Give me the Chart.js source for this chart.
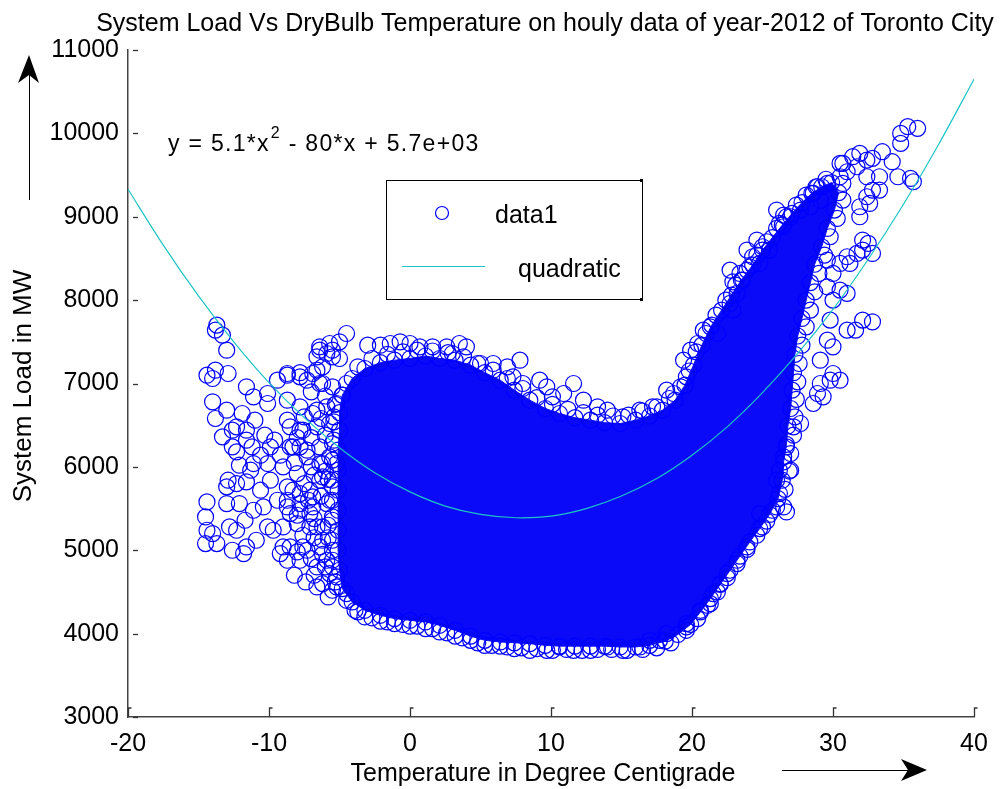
<!DOCTYPE html>
<html>
<head>
<meta charset="utf-8">
<title>System Load Vs DryBulb Temperature</title>
<script src="https://cdn.jsdelivr.net/npm/chart.js@4.4.0/dist/chart.umd.min.js"></script>
<style>
  html, body { margin: 0; padding: 0; background: #fff; }
  #wrap { width: 1005px; height: 789px; }
</style>
</head>
<body>
<div id="wrap"><canvas id="canvas" width="1005" height="789"></canvas></div>
<script>
// axis ticks
const xTicks = [-20, -10, 0, 10, 20, 30, 40];
const yTicks = [3000, 4000, 5000, 6000, 7000, 8000, 9000, 10000, 11000];

// outline of the solid blue mass (thousands of overlapping hourly points), [temp, load]
const coreOutline = [
  [-4.8,6860],[-4.1,7060],[-3.2,7180],[-2.1,7250],[-1.1,7280],[0,7300],[1.1,7330],[2.1,7300],
  [3.2,7280],[4.3,7220],[5.3,7130],[6.4,7040],[7.4,6920],[8.5,6800],[9.6,6700],[10.6,6640],
  [11.7,6590],[12.8,6560],[13.8,6530],[14.9,6520],[16.0,6560],[17.0,6610],[17.9,6680],[18.8,6800],
  [19.5,6980],[20.1,7220],[20.7,7460],[21.4,7700],[22.1,7880],[22.8,8060],[23.5,8240],[24.3,8420],
  [25.0,8600],[25.7,8750],[26.4,8900],[27.1,9040],[27.8,9170],[28.5,9280],[29.2,9360],[29.9,9410],
  [30.4,9290],[30.1,9080],[29.6,8860],[29.2,8640],[28.7,8430],[28.4,8210],[28.1,8000],[27.8,7780],
  [27.5,7570],[27.3,7350],[27.2,7130],[27.1,6920],[27.0,6700],[26.8,6490],[26.7,6270],[26.5,6060],
  [26.4,5840],[26.1,5620],[25.5,5430],[24.8,5260],[24.1,5100],[23.4,4930],[22.7,4760],[22.0,4590],
  [21.3,4420],[20.6,4260],[19.9,4110],[19.0,3990],[18.1,3910],[17.0,3860],[16.0,3840],[14.9,3840],
  [13.8,3850],[12.8,3850],[11.7,3850],[10.6,3850],[9.6,3860],[8.5,3880],[7.4,3890],[6.4,3900],
  [5.3,3920],[4.3,3970],[3.2,4040],[2.1,4100],[1.1,4140],[0,4160],[-1.1,4180],[-2.1,4220],
  [-3.2,4280],[-4.1,4380],[-4.8,4540],[-5.0,4760],[-5.1,5000],[-5.1,5240],[-5.1,5480],[-5.1,5720],
  [-5.1,5960],[-5.1,6200],[-5.0,6440],[-5.0,6650],[-4.8,6860]
];

// ragged edge of the mass, circles sitting just outside the outline
const edgePoints = [
  [-4.5,7000],[-3.7,7200],[-2.7,7300],[-1.6,7350],[-0.5,7380],[0.5,7400],[1.6,7390],[2.7,7370],
  [3.8,7320],[4.8,7240],[5.9,7160],[6.9,7060],[8.0,6940],[9.0,6830],[10.1,6750],[11.2,6690],
  [12.3,6650],[13.3,6620],[14.4,6610],[15.5,6620],[16.5,6670],[17.5,6720],[18.4,6820],[19.2,6960],
  [19.8,7150],[20.3,7380],[21.0,7600],[21.7,7820],[22.4,8000],[23.1,8180],[23.9,8360],[24.6,8540],
  [25.3,8700],[26.0,8860],[26.7,9000],[27.4,9140],[28.1,9260],[28.8,9360],[29.5,9450],
  [30.7,9200],[30.3,8980],[29.8,8760],[29.4,8540],[29.0,8320],[28.7,8100],[28.4,7880],[28.1,7680],
  [27.8,7460],[27.6,7240],[27.5,7020],[27.4,6810],[27.3,6600],[27.2,6380],[27.0,6160],[26.9,5950],
  [26.6,5730],[26.0,5520],[25.3,5350],[24.6,5180],[23.9,5010],[23.2,4840],[22.5,4670],[21.8,4500],
  [21.1,4340],[20.4,4180],[19.6,4040],
  [18.5,3890],[17.5,3830],[16.5,3810],[15.4,3800],[14.3,3810],[13.3,3810],[12.2,3800],[11.1,3810],
  [10.1,3800],[9.0,3820],[7.9,3830],[6.9,3840],[5.8,3860],[4.8,3890],[3.7,3950],[2.6,4010],
  [1.6,4060],[0.5,4090],[-0.5,4110],[-1.6,4140],[-2.7,4190],[-3.7,4260],[-4.5,4400],
  [-5.3,4620],[-5.5,4880],[-5.5,5120],[-5.5,5360],[-5.5,5600],[-5.5,5840],[-5.5,6080],[-5.4,6320],
  [-5.4,6540],[-5.3,6750]
];

// scattered points on the cold side
const coldPoints = [
  [-13.7,7700],[-13.8,7640],[-13.3,7580],[-13.0,7400],[-14.4,7100],[-14.0,7060],[-13.8,7160],[-12.9,7120],
  [-14.0,6780],[-13.8,6580],[-13.0,6680],[-13.3,6360],[-12.6,6440],[-12.3,6480],[-12.6,6240],[-12.3,6180],
  [-11.6,6320],[-11.2,6240],[-11.1,6040],[-11.6,6440],[-11.6,6960],[-11.1,6840],[-11.9,6640],[-10.1,6880],
  [-10.1,6760],[-9.4,7040],[-8.7,7100],[-7.8,7130],[-7.3,7040],[-6.6,7160],[-6.4,7400],[-5.5,7400],
  [-4.5,7600],[-5.7,7480],[-5.0,7300],[-6.4,7000],[-6.6,6680],[-8.7,6560],[-7.8,6440],[-7.8,6240],
  [-7.3,6120],[-8.5,6240],[-9.9,6240],[-10.1,6040],[-9.0,6000],[-12.9,5840],[-13.0,5760],[-12.3,5800],
  [-11.6,5820],[-14.4,5580],[-14.5,5400],[-14.4,5240],[-14.5,5080],[-13.7,5080],[-14.0,5200],[-13.0,5560],
  [-12.1,5560],[-12.8,5280],[-12.3,5240],[-11.1,5480],[-10.4,5520],[-12.6,5000],[-11.8,4960],[-11.6,5040],
  [-10.9,5120],[-10.1,5280],[-9.7,5240],[-9.2,4960],[-9.0,5040],[-8.7,5600],[-8.5,5440],[-8.3,5720],
  [-7.8,5560],[-7.6,5040],[-7.1,5440],[-6.9,5640],[-6.6,5280],[-6.2,5880],[-6.4,6040],[-5.7,6120],
  [-5.5,5760],[-5.7,5600],[-5.5,5400],[-6.2,5120],[-5.9,4880],[-5.5,4800],[-6.2,4600],[-5.5,4520],
  [-8.0,5920],[-8.7,5760],[-7.8,5680],[-7.1,5720],[-6.4,5840],[-8.7,5520],[-7.8,5480],[-6.9,5520],
  [-5.9,5560],[-9.0,5280],[-8.0,5320],[-7.1,5280],[-6.2,5280],[-8.5,5040],[-7.3,5000],[-6.4,5040],
  [-5.5,5000],[-8.7,4880],[-7.8,4880],[-6.6,4800],[-5.7,4720],[-5.2,4560],[-4.5,4480],
  [-8.7,7120],[-7.8,7080],[-6.9,7120],[-6.2,7000],[-5.5,6960],[-8.7,6800],[-7.8,6720],[-6.9,6640],
  [-5.9,6720],[-5.2,6760],[-8.5,6480],[-7.6,6440],[-6.6,6480],[-5.7,6520],[-8.3,6240],[-7.3,6200],
  [-6.4,6240],[-5.5,6280],[-6.2,6040],[-5.2,6040],
  [-11.0,6560],[-10.3,6380],[-9.6,6320],[-10.6,6140],[-9.2,6140],[-11.3,5960],[-9.9,5840],[-10.6,5720],
  [-9.4,5600],[-11.7,5360],[-12.1,6020],
  [-7.0,6900],[-6.0,6850],[-7.5,6600],[-6.3,6580],[-5.4,6600],[-7.0,6350],[-6.0,6380],[-8.0,6350],
  [-7.0,6000],[-6.0,5950],[-8.2,6050],[-7.5,5800],[-6.8,5900],[-5.8,5850],[-7.2,5600],[-6.3,5650],
  [-8.0,5420],[-6.8,5380],[-5.8,5300],[-7.6,5180],[-6.8,5150],[-5.8,5150],[-7.0,4900],[-6.2,4950],
  [-8.0,4980],[-6.8,4700],[-6.0,4800],[-5.2,4680],[-8.2,4700],[-7.4,4620],[-6.6,4560],[-5.8,4440]
];

// points on the rim of the main body (top and bottom)
const rimPoints = [
  [-5.0,7500],[-6.4,7440],[-5.9,7360],[-5.5,7320],[-6.6,7320],[-6.2,7200],[-3.0,7460],[-2.1,7460],
  [-1.4,7480],[-0.7,7500],[0,7480],[0.7,7440],[1.6,7440],[2.6,7440],[3.5,7480],[4.0,7440],
  [3.0,7360],[5.0,7240],[5.9,7240],[6.9,7200],[7.8,7280],[7.3,7080],[8.0,7000],[9.2,7040],
  [9.7,6960],[10.1,6840],[10.9,6880],[11.6,7000],[12.3,6800],[13.3,6720],[14.0,6680],[15.1,6600],
  [16.3,6680],[17.2,6720],[18.2,6920],[18.7,6880],[19.6,7080],[19.4,7280],[19.9,7400],[20.4,7480],
  [17.7,3920],[17.0,3920],[16.3,3840],[15.1,3800],[14.0,3840],[12.8,3800],[11.6,3800],[10.6,3840],
  [9.7,3800],[8.5,3800],[7.4,3820],[6.4,3850],[5.3,3860],[4.3,3920],[3.2,3970],[2.1,4020],
  [1.1,4060],[0,4090],[-1.1,4120],[-2.1,4150],[-3.2,4200],[-3.9,4280]
];

// summer arm and the warm-side rim
const hotPoints = [
  [21.3,7680],[21.8,7600],[20.8,7640],[22.9,7880],[22.7,7960],[22.7,8360],[23.4,8320],[22.9,8220],
  [23.6,8240],[23.2,8080],[24.1,8400],[24.6,8720],[23.9,8600],[24.3,8520],[25.0,8640],[25.5,8600],
  [24.8,8440],[26.0,9080],[26.5,9020],[26.2,8920],[27.0,9000],[26.5,8880],[27.7,9080],[28.4,9120],
  [29.1,9200],[28.6,9280],[28.9,9360],[29.6,9400],[30.5,9480],[30.7,9400],[30.7,9640],[31.4,9720],
  [31.9,9760],[32.4,9680],[32.8,9700],[31.7,9600],[31.0,9540],[30.5,9640],[32.4,9480],[33.3,9480],
  [33.3,9320],[32.8,9320],[32.4,9240],[32.6,9160],[31.9,9120],[31.9,9000],[33.5,9780],[34.2,9660],
  [34.8,10000],[35.3,10080],[36.0,10060],[34.8,9880],[34.6,9480],[35.5,9460],[35.7,9420],[32.1,8720],
  [32.5,8680],[32.8,8560],[32.1,8600],[31.7,8560],[31.0,8520],[30.5,8440],[31.2,8440],[29.6,8480],
  [30.0,8320],[29.6,8160],[30.5,8120],[31.0,8080],[30.0,8000],[31.0,7640],[31.6,7640],[32.1,7760],
  [32.8,7740],[29.8,7760],[30.0,7440],[29.6,7520],[29.1,7280],[30.0,7120],[30.5,7040],[29.8,7040],
  [29.1,7000],[28.9,6880],[29.3,6840],[28.6,6760],[27.7,6520],[27.2,6480],[26.7,6240],[26.5,6120],
  [27.0,5960],[26.2,5960],[26.0,5840],[26.2,5680],[26.5,5520],[26.7,5460],[25.7,5480],[24.8,5440],
  [25.0,5280],[23.9,5040],[23.2,4880],[22.5,4720],[22.0,4600],[21.5,4480],[21.3,4360],[20.6,4280],
  [19.6,4120],[19.6,4080],[18.2,4000]
];

// quadratic fit
const fitTemp = [-20,-17.5,-15,-12.5,-10,-7.5,-5,-2.5,0,2.5,5,7.5,10,12.5,15,17.5,20,22.5,25,27.5,30,32.5,35,37.5,40];
const fitLoad = [9330,8660,8050,7500,7010,6590,6230,5930,5700,5530,5430,5390,5410,5500,5650,5860,6140,6480,6890,7360,7890,8490,9150,9870,10650];

const FONT = '"Liberation Sans", Arial, Helvetica, sans-serif';
const BLUE = '#0000ff';
const CYAN = '#1cc4c4';
const toXY = p => ({ x: p[0], y: p[1] });

// text, arrows, inside ticks and the boxed legend, MATLAB style
const decor = {
  id: 'decor',
  afterDraw(chart) {
    const c = chart.ctx;
    const xs = chart.scales.x, ys = chart.scales.y;
    const a = chart.chartArea;
    c.save();

    // ticks pointing inward
    c.strokeStyle = '#333';
    c.lineWidth = 1.3;
    xTicks.forEach(v => {
      const px = Math.round(xs.getPixelForValue(v)) + 0.5;
      c.beginPath();
      c.moveTo(px, a.bottom);
      c.lineTo(px, a.bottom - 9);
      c.lineTo(px + 3, a.bottom - 9);
      c.stroke();
    });
    yTicks.forEach(v => {
      const py = Math.round(ys.getPixelForValue(v)) + 0.5;
      c.beginPath();
      c.moveTo(a.left + 5, py);
      c.lineTo(a.left + 10, py);
      c.stroke();
    });

    c.fillStyle = '#000';
    c.font = '25px ' + FONT;
    c.textBaseline = 'alphabetic';

    // title
    c.textAlign = 'center';
    c.fillText('System Load Vs DryBulb Temperature on houly data of year-2012 of Toronto City', 545, 31);

    // x axis label
    c.fillText('Temperature in Degree Centigrade', 543, 781);

    // y axis label
    c.save();
    c.translate(31, 386);
    c.rotate(-Math.PI / 2);
    c.font = '26px ' + FONT;
    c.fillText('System Load in MW', 0, 0);
    c.restore();

    // fitted equation
    c.textAlign = 'left';
    c.letterSpacing = '1.3px';
    c.font = '23px ' + FONT;
    let x = 168;
    const part1 = 'y = 5.1*x';
    c.fillText(part1, x, 151);
    x += c.measureText(part1).width;
    c.font = '16px ' + FONT;
    c.fillText('2', x + 1, 138);
    x += c.measureText('2').width + 1;
    c.font = '23px ' + FONT;
    c.fillText(' - 80*x + 5.7e+03', x, 151);
    c.letterSpacing = '0px';

    // arrows
    c.strokeStyle = '#000';
    c.lineWidth = 1;
    c.beginPath();
    c.moveTo(29.5, 200);
    c.lineTo(29.5, 70);
    c.stroke();
    c.beginPath();
    c.moveTo(29, 55);
    c.lineTo(39, 83);
    c.lineTo(29, 75);
    c.lineTo(18, 83);
    c.closePath();
    c.fill();

    c.beginPath();
    c.moveTo(782, 770.5);
    c.lineTo(915, 770.5);
    c.stroke();
    c.beginPath();
    c.moveTo(927, 770);
    c.lineTo(901, 759);
    c.lineTo(908, 770);
    c.lineTo(901, 781);
    c.closePath();
    c.fill();

    // legend box
    c.fillStyle = '#fff';
    c.fillRect(386, 180, 256, 119);
    c.strokeStyle = '#000';
    c.lineWidth = 1;
    c.strokeRect(386.5, 180.5, 256, 119);
    c.fillStyle = '#000';
    c.fillRect(640, 179, 3, 3);
    c.fillRect(640, 298, 3, 3);

    c.strokeStyle = BLUE;
    c.lineWidth = 1.2;
    c.beginPath();
    c.arc(442, 213, 6.5, 0, Math.PI * 2);
    c.stroke();
    c.strokeStyle = CYAN;
    c.beginPath();
    c.moveTo(402, 266.5);
    c.lineTo(485, 266.5);
    c.stroke();

    c.fillStyle = '#000';
    c.font = '25px ' + FONT;
    c.fillText('data1', 495, 223);
    c.fillText('quadratic', 518, 277);

    c.restore();
  }
};

const ctx = document.getElementById('canvas').getContext('2d');
new Chart(ctx, {
  type: 'scatter',
  data: {
    datasets: [
      {
        label: 'quadratic',
        data: fitTemp.map((t, i) => ({ x: t, y: fitLoad[i] })),
        showLine: true,
        borderColor: CYAN,
        borderWidth: 1.2,
        pointRadius: 0,
        tension: 0.3,
        order: 0
      },
      {
        label: 'data1',
        data: coreOutline.concat(edgePoints, coldPoints, rimPoints, hotPoints).map(toXY),
        pointStyle: 'circle',
        pointRadius: 8,
        borderColor: BLUE,
        backgroundColor: 'rgba(0,0,0,0)',
        borderWidth: 1.2,
        order: 1
      },
      {
        label: 'core',
        data: coreOutline.map(toXY),
        showLine: true,
        fill: 'shape',
        backgroundColor: 'rgb(10,10,248)',
        borderColor: 'rgb(10,10,248)',
        borderWidth: 1,
        pointRadius: 0,
        order: 2
      }
    ]
  },
  options: {
    responsive: false,
    devicePixelRatio: 1,
    animation: false,
    events: [],
    layout: { padding: { top: 50, right: 31, left: 0, bottom: 0 } },
    plugins: {
      legend: { display: false },
      tooltip: { enabled: false },
      title: { display: false }
    },
    scales: {
      x: {
        type: 'linear',
        min: -20,
        max: 40,
        afterBuildTicks: s => { s.ticks = xTicks.map(v => ({ value: v })); },
        afterFit: s => { s.height = 72; },
        ticks: {
          font: { family: FONT, size: 25 },
          color: '#000',
          padding: 12,
          maxRotation: 0,
          autoSkip: false,
          callback: v => String(v)
        },
        grid: { display: false, drawTicks: false },
        border: { display: true, color: '#444', width: 1.5 }
      },
      y: {
        type: 'linear',
        min: 3000,
        max: 11000,
        afterBuildTicks: s => { s.ticks = yTicks.map(v => ({ value: v })); },
        afterFit: s => { s.width = 128; },
        ticks: {
          font: { family: FONT, size: 25 },
          color: '#000',
          padding: 9,
          autoSkip: false,
          callback: v => String(v)
        },
        grid: { display: false, drawTicks: false },
        border: { display: true, color: '#444', width: 1.5 }
      }
    }
  },
  plugins: [decor]
});
</script>
</body>
</html>
